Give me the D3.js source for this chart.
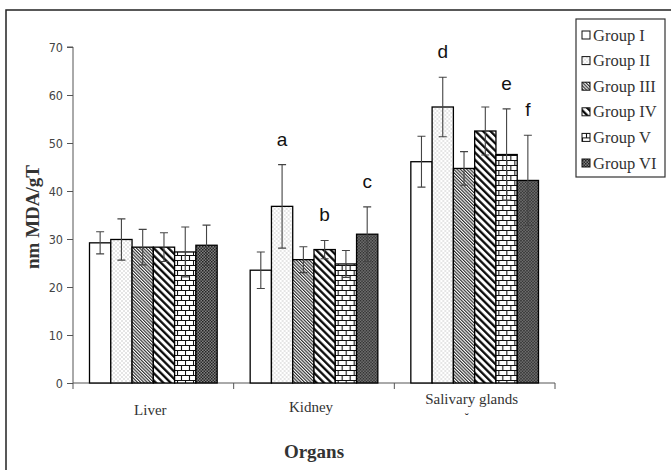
<!DOCTYPE html>
<html>
<head>
<meta charset="utf-8">
<script src="https://cdn.jsdelivr.net/npm/d3@7"></script>
<style>
  body { margin: 0; background: #fff; }
  svg { display: block; }
  .tick text { font-family: "Liberation Sans Narrow", "DejaVu Sans Condensed", sans-serif; font-size: 12.5px; fill: #444; }
  .axis path, .axis line { stroke: #555; }
</style>
</head>
<body>
<div id="chart"></div>
<script>
// values
var organs = ["Liver", "Kidney", "Salivary glands"];
var groups = ["Group I", "Group II", "Group III", "Group IV", "Group V", "Group VI"];
var liverMean = [29.2, 29.9, 28.3, 28.3, 27.3, 28.7];
var liverSd = [2.3, 4.3, 3.7, 3.0, 5.2, 4.2];
var kidneyMean = [23.5, 36.8, 25.7, 27.8, 24.8, 31.0];
var kidneySd = [3.8, 8.7, 2.7, 1.9, 2.8, 5.7];
var salivaryMean = [46.1, 57.5, 44.7, 52.5, 47.6, 42.2];
var salivarySd = [5.3, 6.2, 3.5, 5.0, 9.5, 9.4];
var yTicks = [0, 10, 20, 30, 40, 50, 60, 70];
// significance letters: organ index, group index, letter
var letters = [
  [1, 1, "a"], [1, 3, "b"], [1, 5, "c"],
  [2, 1, "d"], [2, 4, "e"], [2, 5, "f"]
];

var means = [liverMean, kidneyMean, salivaryMean];
var sds = [liverSd, kidneySd, salivarySd];

var width = 671, height = 470;
var svg = d3.select("#chart").append("svg")
    .attr("width", width)
    .attr("height", height);

var defs = svg.append("defs");

// pattern fills, one per group
var p;
defs.append("pattern").attr("id", "pat0")
    .attr("patternUnits", "userSpaceOnUse").attr("width", 4).attr("height", 4)
  .append("rect").attr("width", 4).attr("height", 4).attr("fill", "#fff");

p = defs.append("pattern").attr("id", "pat1")
    .attr("patternUnits", "userSpaceOnUse").attr("width", 4).attr("height", 4);
p.append("rect").attr("width", 4).attr("height", 4).attr("fill", "#fff");
p.append("rect").attr("x", 0.5).attr("y", 0.5).attr("width", 1).attr("height", 1).attr("fill", "#999");
p.append("rect").attr("x", 2.5).attr("y", 2.5).attr("width", 1).attr("height", 1).attr("fill", "#999");

p = defs.append("pattern").attr("id", "pat2")
    .attr("patternUnits", "userSpaceOnUse").attr("width", 2.3).attr("height", 10)
    .attr("patternTransform", "rotate(-45)");
p.append("rect").attr("width", 2.3).attr("height", 10).attr("fill", "#fff");
p.append("line").attr("x1", 0.6).attr("x2", 0.6).attr("y1", 0).attr("y2", 10)
    .attr("stroke", "#222").attr("stroke-width", 1.1);

p = defs.append("pattern").attr("id", "pat3")
    .attr("patternUnits", "userSpaceOnUse").attr("width", 5.2).attr("height", 10)
    .attr("patternTransform", "rotate(-45)");
p.append("rect").attr("width", 5.2).attr("height", 10).attr("fill", "#fff");
p.append("line").attr("x1", 1.2).attr("x2", 1.2).attr("y1", 0).attr("y2", 10)
    .attr("stroke", "#000").attr("stroke-width", 2.2);

p = defs.append("pattern").attr("id", "pat4")
    .attr("patternUnits", "userSpaceOnUse").attr("width", 8).attr("height", 10);
p.append("rect").attr("width", 8).attr("height", 10).attr("fill", "#fff");
p.append("path")
    .attr("d", "M0,0.5H8M0,5.5H8M0.5,0.5V5.5M4.5,5.5V10.5")
    .attr("stroke", "#111").attr("stroke-width", 1.1).attr("fill", "none");

p = defs.append("pattern").attr("id", "pat5")
    .attr("patternUnits", "userSpaceOnUse").attr("width", 3).attr("height", 3);
p.append("rect").attr("width", 3).attr("height", 3).attr("fill", "#808080");
p.append("rect").attr("width", 1.5).attr("height", 1.5).attr("fill", "#222");
p.append("rect").attr("x", 1.5).attr("y", 1.5).attr("width", 1.5).attr("height", 1.5).attr("fill", "#2a2a2a");

// frame (top and left edges of the cropped figure)
svg.append("path")
    .attr("d", "M6,470V10H671")
    .attr("fill", "none").attr("stroke", "#222").attr("stroke-width", 1.5);

var x0 = d3.scaleBand().domain(organs).range([73, 555]);
var x1 = d3.scaleBand().domain(d3.range(groups.length))
    .range([16.5, x0.bandwidth() - 16.5]);
var y = d3.scaleLinear().domain([0, 70]).range([383, 47]);

// y axis
svg.append("g").attr("class", "axis")
    .attr("transform", "translate(73,0)")
    .call(d3.axisLeft(y).tickValues(yTicks).tickSize(6).tickPadding(4))
    .call(function(g) { g.select(".domain").attr("d", "M-6," + y(70) + "H0V" + y(0)); });

// x axis line with ticks at category boundaries
var xa = svg.append("g").attr("class", "axis");
xa.append("line").attr("x1", 73).attr("x2", 555).attr("y1", y(0)).attr("y2", y(0))
    .attr("stroke", "#555");
xa.selectAll(".bt").data(organs.concat(["end"])).enter().append("line")
    .attr("x1", function(d, i) { return i < organs.length ? x0(d) : x0.range()[1]; })
    .attr("x2", function(d, i) { return i < organs.length ? x0(d) : x0.range()[1]; })
    .attr("y1", y(0)).attr("y2", y(0) + 6)
    .attr("stroke", "#555");

// bars
var gOrg = svg.selectAll(".organ").data(organs).enter().append("g")
    .attr("transform", function(d) { return "translate(" + x0(d) + ",0)"; });

gOrg.selectAll("rect").data(function(d, i) {
      return means[i].map(function(v, j) { return { g: j, v: v, sd: sds[i][j] }; });
    }).enter().append("rect")
    .attr("x", function(d) { return x1(d.g); })
    .attr("width", x1.bandwidth())
    .attr("y", function(d) { return y(d.v); })
    .attr("height", function(d) { return y(0) - y(d.v); })
    .attr("fill", function(d) { return "url(#pat" + d.g + ")"; })
    .attr("stroke", "#000").attr("stroke-width", 1.3);

// error bars
gOrg.selectAll(".err").data(function(d, i) {
      return means[i].map(function(v, j) { return { g: j, v: v, sd: sds[i][j] }; });
    }).enter().append("path")
    .attr("d", function(d) {
      var cx = x1(d.g) + x1.bandwidth() / 2, t = y(d.v + d.sd), b = y(d.v - d.sd);
      return "M" + cx + "," + t + "V" + b +
        "M" + (cx - 4) + "," + t + "H" + (cx + 4) +
        "M" + (cx - 4) + "," + b + "H" + (cx + 4);
    })
    .attr("fill", "none").attr("stroke", "#444").attr("stroke-width", 1.1);

// significance letters
svg.selectAll(".sig").data(letters).enter().append("text")
    .attr("x", function(d) { return x0(organs[d[0]]) + x1(d[1]) + x1.bandwidth() / 2; })
    .attr("y", function(d) { return y(means[d[0]][d[1]] + sds[d[0]][d[1]]) - 19; })
    .attr("text-anchor", "middle")
    .style("font-family", "Liberation Sans, Arial, sans-serif")
    .style("font-size", "19px")
    .attr("fill", "#111")
    .text(function(d) { return d[2]; });

// category labels (slightly staggered as in the figure)
var labelY = [415, 412, 404];
svg.selectAll(".cat").data(organs).enter().append("text")
    .attr("x", function(d) { return x0(d) + x0.bandwidth() / 2 - 3; })
    .attr("y", function(d, i) { return labelY[i]; })
    .attr("text-anchor", "middle")
    .style("font-family", "Liberation Serif, Times New Roman, serif")
    .style("font-size", "15px")
    .attr("fill", "#333")
    .text(function(d) { return d; });
svg.append("text")
    .attr("x", x0("Salivary glands") + x0.bandwidth() / 2 - 8).attr("y", 422)
    .attr("text-anchor", "middle")
    .style("font-family", "Liberation Serif, serif").style("font-size", "12px")
    .attr("fill", "#333")
    .text("˘");

// axis titles
svg.append("text")
    .attr("x", 314).attr("y", 458)
    .attr("text-anchor", "middle")
    .style("font-family", "Liberation Serif, Times New Roman, serif")
    .style("font-size", "19px").style("font-weight", "bold")
    .attr("fill", "#333")
    .text("Organs");
svg.append("text")
    .attr("transform", "translate(39,217) rotate(-90)")
    .attr("text-anchor", "middle")
    .style("font-family", "Liberation Serif, Times New Roman, serif")
    .style("font-size", "19px").style("font-weight", "bold")
    .attr("fill", "#333")
    .text("nm MDA/gT");

// legend
var lg = svg.append("g");
lg.append("rect").attr("x", 576).attr("y", 19).attr("width", 89).attr("height", 158)
    .attr("fill", "#fff").attr("stroke", "#333").attr("stroke-width", 1.2);
var li = lg.selectAll(".li").data(groups).enter().append("g")
    .attr("transform", function(d, i) { return "translate(582," + (35 + i * 25.6) + ")"; });
li.append("rect").attr("x", 0).attr("y", -4).attr("width", 8).attr("height", 8)
    .attr("fill", function(d, i) { return "url(#pat" + i + ")"; })
    .attr("stroke", "#111").attr("stroke-width", 1);
li.append("text").attr("x", 11).attr("y", 5.5)
    .style("font-family", "Liberation Serif, Times New Roman, serif")
    .style("font-size", "16.5px")
    .attr("fill", "#333")
    .text(function(d) { return d; });
</script>
</body>
</html>
